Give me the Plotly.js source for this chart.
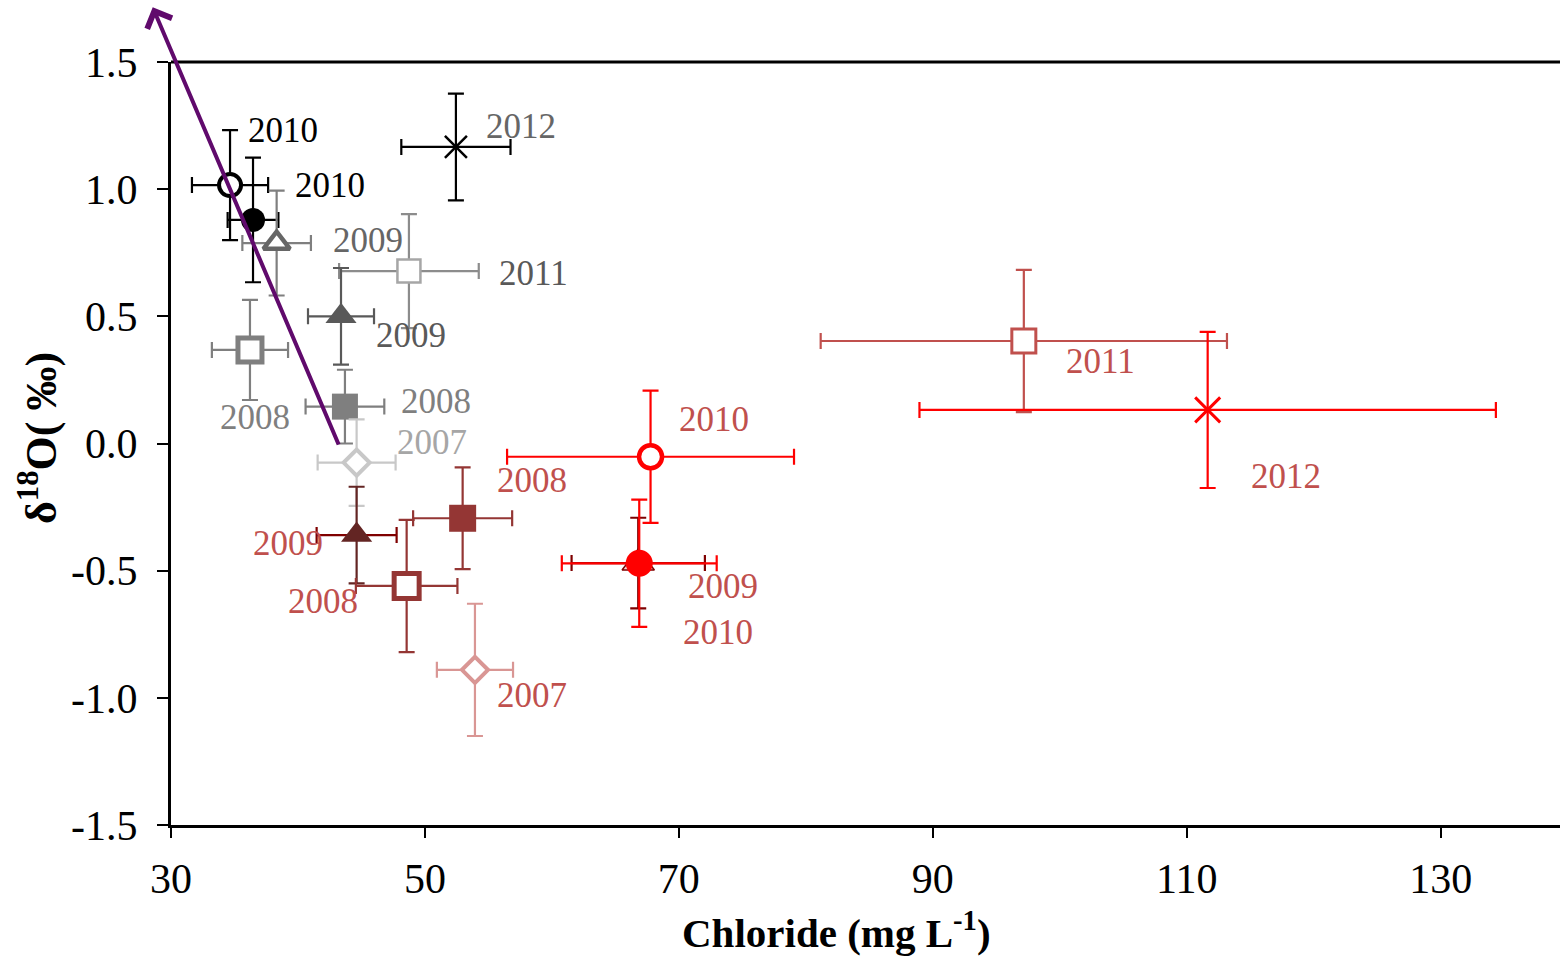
<!DOCTYPE html>
<html>
<head>
<meta charset="utf-8">
<script src="https://cdn.plot.ly/plotly-3.0.1.min.js"></script>
<style>html,body{margin:0;padding:0;background:#fff;}#chart{width:1560px;height:959px;}</style>
</head>
<body>
<div id="chart"></div>
<script>
// ---- data ----
const yearLabels = ["2010","2010","2009","2012","2011","2009","2008","2008","2007",
                    "2009","2008","2008","2007","2010","2010","2009","2011","2012"];
const chloride   = [34.65, 36.46, 38.32, 52.44, 48.74, 43.39, 36.22, 43.70, 44.62,
                    44.62, 52.97, 48.56, 53.94, 67.77, 66.80, 66.88, 97.17, 111.65];
const d18O       = [1.016, 0.879, 0.788, 1.166, 0.678, 0.50, 0.368, 0.145, -0.075,
                    -0.36, -0.294, -0.56, -0.89, -0.052, -0.47, -0.471, 0.403, 0.132];
const chlorideErr= [3.0, 2.0, 2.7, 4.3, 5.5, 2.6, 3.0, 3.1, 3.07,
                    3.15, 3.9, 4.0, 3.0, 11.3, 5.25, 6.1, 16.0, 22.7];
const d18OErr    = [0.216, 0.245, 0.206, 0.21, 0.224, 0.19, 0.197, 0.145, 0.17,
                    0.19, 0.2, 0.26, 0.26, 0.26, 0.178, 0.25, 0.28, 0.307];
const xTickVals  = [30, 50, 70, 90, 110, 130];
const xTickText  = ["30", "50", "70", "90", "110", "130"];
const yTickVals  = [-1.5, -1.0, -0.5, 0.0, 0.5, 1.0, 1.5];
const yTickText  = ["-1.5", "-1.0", "-0.5", "0.0", "0.5", "1.0", "1.5"];
const xTitle     = "<b>Chloride (mg L<sup>-1</sup>)</b>";
const yTitle     = "<b>δ<sup>18</sup>O( ‰)</b>";
const arrowTail  = [43.44, -0.032];
const arrowHead  = [28.56, 1.715];

// ---- styles (one per point, same order) ----
const W = '#ffffff';
const styles = [
  {sym:'circle',      fill:W,        line:'#000000', lw:4,   size:22, ex:'#000000', ey:'#000000', lab:'#000000', dx:53,  dy:55},
  {sym:'circle',      fill:'#000000',line:'#000000', lw:0,   size:24, ex:'#000000', ey:'#000000', lab:'#000000', dx:77,  dy:34},
  {sym:'triangle-up', fill:W,        line:'#666666', lw:4.5, size:23, ex:'#7f7f7f', ey:'#7f7f7f', lab:'#666666', dx:91,  dy:3},
  {sym:'x-thin',      fill:'#000000',line:'#000000', lw:2.5, size:22, ex:'#000000', ey:'#000000', lab:'#666666', dx:65,  dy:20},
  {sym:'square',      fill:W,        line:'#a6a6a6', lw:2.5, size:23, ex:'#8c8c8c', ey:'#8c8c8c', lab:'#595959', dx:125, dy:-2},
  {sym:'triangle-up', fill:'#595959',line:'#595959', lw:0,   size:27, ex:'#595959', ey:'#595959', lab:'#595959', dx:70,  dy:-19},
  {sym:'square',      fill:W,        line:'#7f7f7f', lw:5,   size:24, ex:'#7f7f7f', ey:'#7f7f7f', lab:'#7f7f7f', dx:5,   dy:-68},
  {sym:'square',      fill:'#7f7f7f',line:'#7f7f7f', lw:0,   size:26, ex:'#7f7f7f', ey:'#7f7f7f', lab:'#7f7f7f', dx:91,  dy:5},
  {sym:'diamond',     fill:W,        line:'#c8c8c8', lw:4,   size:20, ex:'#c8c8c8', ey:'#c8c8c8', lab:'#a6a6a6', dx:75,  dy:20},
  {sym:'triangle-up', fill:'#632523',line:'#632523', lw:0,   size:27, ex:'#7f0000', ey:'#632523', lab:'#c0504d', dx:-69, dy:-8},
  {sym:'square',      fill:'#943634',line:'#943634', lw:0,   size:27, ex:'#943634', ey:'#943634', lab:'#c0504d', dx:69,  dy:38},
  {sym:'square',      fill:W,        line:'#943634', lw:5,   size:25, ex:'#943634', ey:'#943634', lab:'#c0504d', dx:-84, dy:-16},
  {sym:'diamond',     fill:W,        line:'#d99694', lw:4,   size:20, ex:'#d99694', ey:'#d99694', lab:'#c0504d', dx:57,  dy:-26},
  {sym:'circle',      fill:W,        line:'#ff0000', lw:4.5, size:23, ex:'#ff0000', ey:'#ff0000', lab:'#c0504d', dx:63,  dy:37},
  {sym:'triangle-up', fill:'#f4d0d0',line:'#7f0000', lw:1.5, size:28, ex:'#7f0000', ey:'#7f0000', lab:'#c0504d', dx:80,  dy:-69},
  {sym:'circle',      fill:'#ff0000',line:'#ff0000', lw:0,   size:27, ex:'#ff0000', ey:'#ff0000', lab:'#c0504d', dx:84,  dy:-23},
  {sym:'square',      fill:W,        line:'#c0504d', lw:3,   size:24, ex:'#c0504d', ey:'#c0504d', lab:'#c0504d', dx:77,  dy:-20},
  {sym:'x-thin',      fill:'#ff0000',line:'#ff0000', lw:3,   size:25, ex:'#ff0000', ey:'#ff0000', lab:'#c0504d', dx:78,  dy:-67}
];

const FONT = '"Liberation Serif", "Times New Roman", Times, serif';

const traces = chloride.map((cx, i) => {
  const s = styles[i];
  return {
    type: 'scatter', mode: 'markers',
    x: [cx], y: [d18O[i]],
    name: yearLabels[i],
    showlegend: false,
    cliponaxis: false,
    marker: {symbol: s.sym, size: s.size, color: s.fill, line: {color: s.line, width: s.lw}},
    error_x: {type: 'data', array: [chlorideErr[i]], symmetric: true, visible: true, color: s.ex, thickness: 2.2, width: 8},
    error_y: {type: 'data', array: [d18OErr[i]], symmetric: true, visible: true, color: s.ey, thickness: 2.2, width: 8},
    hoverinfo: 'x+y+name'
  };
});

const annotations = chloride.map((cx, i) => ({
  x: cx, y: d18O[i], xref: 'x', yref: 'y',
  text: yearLabels[i], showarrow: false,
  xshift: styles[i].dx, yshift: styles[i].dy,
  font: {family: FONT, size: 35, color: styles[i].lab}
}));

// axis titles
annotations.push({
  x: 0.4788, y: -0.137, xref: 'paper', yref: 'paper', xanchor: 'center', yanchor: 'middle',
  text: xTitle, showarrow: false, font: {family: FONT, size: 41, color: '#000'}
});
annotations.push({
  x: -0.0958, y: 0.507, xref: 'paper', yref: 'paper', xanchor: 'center', yanchor: 'middle',
  text: yTitle, textangle: -90, showarrow: false, font: {family: FONT, size: 44, color: '#000'}
});

// mixing arrow
annotations.push({
  x: arrowHead[0], y: arrowHead[1], xref: 'x', yref: 'y',
  ax: arrowTail[0], ay: arrowTail[1], axref: 'x', ayref: 'y',
  text: ' ', showarrow: true, arrowhead: 4, arrowsize: 1.3, arrowwidth: 4,
  arrowcolor: '#600a6c', standoff: 0, startstandoff: 0
});

const layout = {
  width: 1560, height: 959,
  margin: {l: 171, r: 0, t: 62, b: 134, pad: 0},
  paper_bgcolor: '#ffffff', plot_bgcolor: '#ffffff',
  font: {family: FONT, color: '#000000'},
  showlegend: false,
  xaxis: {
    range: [30, 139.4], tickvals: xTickVals, ticktext: xTickText,
    ticks: 'outside', ticklen: 10, tickwidth: 2, tickcolor: '#000',
    showline: true, linecolor: '#000', linewidth: 3,
    showgrid: false, zeroline: false, ticklabelstandoff: 5,
    tickfont: {family: FONT, size: 42, color: '#000'}
  },
  yaxis: {
    range: [-1.5, 1.5], tickvals: yTickVals, ticktext: yTickText,
    ticks: 'outside', ticklen: 11, tickwidth: 2, tickcolor: '#000',
    showline: true, linecolor: '#000', linewidth: 3,
    showgrid: false, zeroline: false, ticklabelstandoff: 11,
    tickfont: {family: FONT, size: 42, color: '#000'}
  },
  shapes: [
    {type: 'line', xref: 'paper', yref: 'paper', x0: 0, x1: 1, y0: 1, y1: 1, line: {color: '#000', width: 3}, layer: 'above'}
  ],
  annotations: annotations
};

Plotly.newPlot('chart', traces, layout, {displayModeBar: false, staticPlot: true});
</script>
</body>
</html>
